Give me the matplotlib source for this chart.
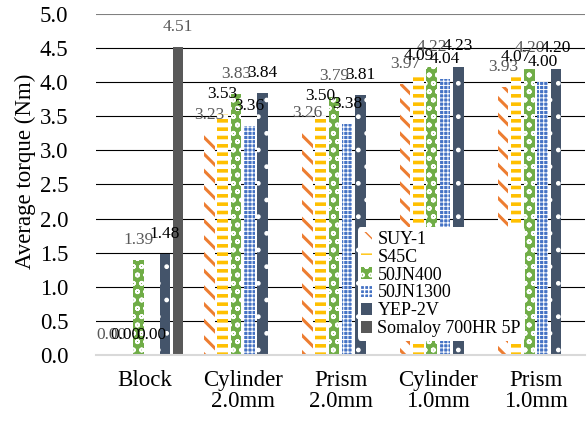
import matplotlib
matplotlib.use("Agg")
import matplotlib.pyplot as plt
import numpy as np

# ---- data ----
categories = ['Block', 'Cylinder\n2.0mm', 'Prism\n2.0mm', 'Cylinder\n1.0mm', 'Prism\n1.0mm']
series_names = ['SUY-1', 'S45C', '50JN400', '50JN1300', 'YEP-2V', 'Somaloy 700HR 5P']
suy1 = [0.00, 3.23, 3.26, 3.97, 3.93]
s45c = [0.00, 3.53, 3.50, 4.09, 4.07]
jn400 = [1.39, 3.83, 3.79, 4.22, 4.20]
jn1300 = [0.00, 3.36, 3.38, 4.04, 4.00]
yep2v = [1.48, 3.84, 3.81, 4.23, 4.20]
somaloy = [4.51, np.nan, np.nan, np.nan, np.nan]
y_ticks = [0.0, 0.5, 1.0, 1.5, 2.0, 2.5, 3.0, 3.5, 4.0, 4.5, 5.0]
y_label = 'Average torque (Nm)'

series_values = [suy1, s45c, jn400, jn1300, yep2v, somaloy]

# ---- styles ----
styles = [
    dict(face='white', hatch_col='#ED7D31', hatch='\\\\', hlw=2.2, lab='#595959'),
    dict(face='white', hatch_col='#FFC000', hatch='--', hlw=2.6, lab='black'),
    dict(face='#70AD47', hatch_col='white', hatch='oo', hlw=1.2, lab='#595959'),
    dict(face='#4472C4', hatch_col='white', hatch='++++', hlw=0.7, lab='black'),
    dict(face='#44546A', hatch_col='white', hatch='.', hlw=1.0, lab='black'),
    dict(face='#595959', hatch_col='#595959', hatch=None, hlw=1.0, lab='#595959'),
]

plt.rcParams['font.family'] = ['Liberation Serif', 'DejaVu Serif']

fig = plt.figure(figsize=(5.88, 4.23), dpi=100)
ax = fig.add_axes([96/588, 1-355/423, 489/588, 341/423])

x = np.arange(len(categories))
slot = 0.136
width = 0.108
n = len(series_values)

handles = []
for i, (vals, st, name) in enumerate(zip(series_values, styles, series_names)):
    offs = (i - (n - 1) / 2) * slot
    with plt.rc_context({'hatch.linewidth': st['hlw'], 'hatch.color': st['hatch_col']}):
        bars = ax.bar(x + offs, vals, width, color=st['face'], edgecolor=st['hatch_col'],
                      hatch=st['hatch'], linewidth=0, label=name, zorder=3)
    handles.append(bars)
    for xi, v in zip(x + offs, vals):
        if np.isnan(v):
            continue
        ax.annotate(f'{v:.2f}', xy=(xi, v), xytext=(0, 14.5), textcoords='offset points',
                    ha='center', va='center', fontsize=12.5, color=st['lab'], zorder=5)

ax.set_xlim(-0.5, len(categories) - 0.5)
ax.set_ylim(0, 5.0)
ax.set_yticks(y_ticks)
ax.set_yticklabels([f'{t:.1f}' for t in y_ticks])
ax.set_xticks(x)
ax.set_xticklabels(categories, linespacing=1.0)
ax.tick_params(axis='y', length=0, pad=20, labelsize=16.5)
ax.tick_params(axis='x', length=0, pad=11, labelsize=16.5)

for s in ['left', 'right', 'top']:
    ax.spines[s].set_visible(False)
ax.spines['bottom'].set_color('#d9d9d9')
ax.spines['bottom'].set_linewidth(1.5)
ax.spines['bottom'].set_zorder(4)

for t in y_ticks[1:]:
    ax.axhline(t, color='#808080' if t == 5.0 else 'black', lw=0.8, zorder=1)

fig.text(25/588, 1-171/423, y_label, rotation=90, ha='center', va='center', fontsize=16.5)

leg = ax.legend(handles=handles, loc='upper left', bbox_to_anchor=(0.535, 0.375),
                fontsize=13, frameon=True, framealpha=1, edgecolor='none',
                labelspacing=0.05, handlelength=0.6, handleheight=0.6,
                handletextpad=0.3, borderpad=0.2, borderaxespad=0)
leg.get_frame().set_linewidth(0)
leg.set_zorder(6)

fig.savefig('out.png', dpi=100)
